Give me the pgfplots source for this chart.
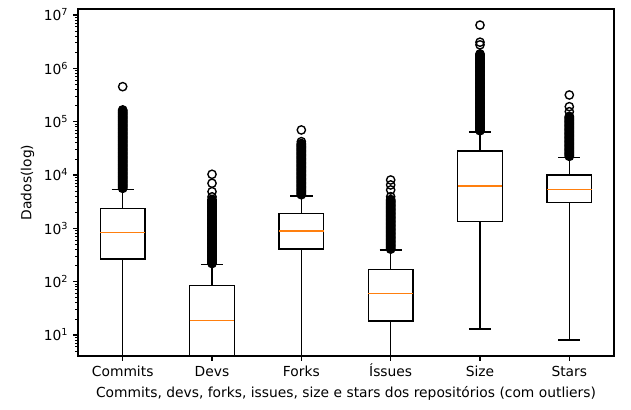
\documentclass[border=0pt]{standalone}
\usepackage{fontspec}
\setmainfont{DejaVu Sans}
\usepackage{pgfplots}
\pgfplotsset{compat=1.18}
\usepgfplotslibrary{statistics}
\definecolor{mplorange}{HTML}{FF7F0E}
% all values are given as log10 of the data (axis is drawn in decades)
\begin{document}
\begin{tikzpicture}
\begin{axis}[
  scale only axis, width=387.4pt, height=250.8pt,
  ymin=0.606, ymax=7.1125,
  xmin=0.5, xmax=6.5,
  xtick={1,2,3,4,5,6},
  xticklabels={Commits,Devs,Forks,Íssues,Size,Stars},
  xticklabel style={text height=7.6pt, text depth=0.5pt},
  ytick={1,2,3,4,5,6,7},
  yticklabels={10\textsuperscript{1},10\textsuperscript{2},10\textsuperscript{3},10\textsuperscript{4},10\textsuperscript{5},10\textsuperscript{6},10\textsuperscript{7}},
  minor ytick={0.699,0.778,0.845,0.903,0.954,
    1.301,1.477,1.602,1.699,1.778,1.845,1.903,1.954,
    2.301,2.477,2.602,2.699,2.778,2.845,2.903,2.954,
    3.301,3.477,3.602,3.699,3.778,3.845,3.903,3.954,
    4.301,4.477,4.602,4.699,4.778,4.845,4.903,4.954,
    5.301,5.477,5.602,5.699,5.778,5.845,5.903,5.954,
    6.301,6.477,6.602,6.699,6.778,6.845,6.903,6.954},
  tick align=outside, tick pos=left,
  major tick length=3.5pt, minor tick length=2pt,
  major tick style={black, line width=0.8pt},
  minor tick style={black, line width=0.6pt},
  axis line style={black, line width=0.8pt},
  tick label style={font=\fontsize{10}{12}\selectfont},
  label style={font=\fontsize{10}{12}\selectfont},
  xlabel={Commits, devs, forks, issues, size e stars dos repositórios (com outliers)},
  ylabel={Dados(log)},
  boxplot/draw direction=y,
  boxplot/box extend=0.5,
  boxplot/whisker extend=0.25,
  boxplot/every box/.style={draw=black, line width=1pt},
  boxplot/every whisker/.style={draw=black, line width=1pt},
  boxplot/every median/.style={draw=mplorange, line width=1.1pt},
  fliers/.style={black, line width=1pt, mark=o, mark size=3pt, mark options={solid, draw=black, line width=1pt}},
]
% Commits
\addplot[fliers,
  boxplot prepared={draw position=1, median=2.918, upper quartile=3.376, lower quartile=2.425, upper whisker=3.732, lower whisker=0}]
  table[row sep=\\, y index=0] {data\\
  3.750\\ 3.765\\ 3.780\\ 3.795\\ 3.810\\ 3.825\\ 3.840\\ 3.855\\ 3.870\\ 3.885\\ 3.900\\ 3.915\\ 3.930\\ 3.945\\ 3.960\\ 3.975\\ 3.990\\ 4.005\\ 4.020\\ 4.035\\ 4.050\\ 4.065\\ 4.080\\ 4.095\\ 4.110\\ 4.125\\ 4.140\\ 4.155\\ 4.170\\ 4.185\\ 4.200\\ 4.215\\ 4.230\\ 4.245\\ 4.260\\ 4.275\\ 4.290\\ 4.305\\ 4.320\\ 4.335\\ 4.350\\ 4.365\\ 4.380\\ 4.395\\ 4.410\\ 4.425\\ 4.440\\ 4.455\\ 4.470\\ 4.485\\ 4.500\\ 4.515\\ 4.530\\ 4.545\\ 4.560\\ 4.575\\ 4.590\\ 4.605\\ 4.620\\ 4.635\\ 4.650\\ 4.665\\ 4.680\\ 4.695\\ 4.710\\ 4.725\\ 4.740\\ 4.755\\ 4.770\\ 4.785\\ 4.800\\ 4.815\\ 4.830\\ 4.845\\ 4.860\\ 4.875\\ 4.890\\ 4.905\\ 4.920\\ 4.935\\ 4.950\\ 4.965\\ 4.980\\ 4.995\\ 5.010\\ 5.025\\ 5.040\\ 5.055\\ 5.070\\ 5.085\\ 5.100\\ 5.115\\ 5.130\\ 5.145\\ 5.160\\ 5.175\\ 5.190\\ 5.205\\ 5.220\\
  5.656\\
  };
% Devs
\addplot[fliers,
  boxplot prepared={draw position=2, median=1.268, upper quartile=1.924, lower quartile=0, upper whisker=2.318, lower whisker=0}]
  table[row sep=\\, y index=0] {data\\
  2.340\\ 2.355\\ 2.370\\ 2.385\\ 2.400\\ 2.415\\ 2.430\\ 2.445\\ 2.460\\ 2.475\\ 2.490\\ 2.505\\ 2.520\\ 2.535\\ 2.550\\ 2.565\\ 2.580\\ 2.595\\ 2.610\\ 2.625\\ 2.640\\ 2.655\\ 2.670\\ 2.685\\ 2.700\\ 2.715\\ 2.730\\ 2.745\\ 2.760\\ 2.775\\ 2.790\\ 2.805\\ 2.820\\ 2.835\\ 2.850\\ 2.865\\ 2.880\\ 2.895\\ 2.910\\ 2.925\\ 2.940\\ 2.955\\ 2.970\\ 2.985\\ 3.000\\ 3.015\\ 3.030\\ 3.045\\ 3.060\\ 3.075\\ 3.090\\ 3.105\\ 3.120\\ 3.135\\ 3.150\\ 3.165\\ 3.180\\ 3.195\\ 3.210\\ 3.225\\ 3.240\\ 3.255\\ 3.270\\ 3.285\\ 3.300\\ 3.315\\ 3.330\\ 3.345\\ 3.360\\ 3.375\\ 3.390\\ 3.405\\ 3.420\\ 3.435\\ 3.450\\ 3.465\\ 3.480\\ 3.495\\ 3.510\\ 3.525\\ 3.540\\
  3.590\\ 3.687\\ 3.845\\ 4.013\\
  };
% Forks
\addplot[fliers,
  boxplot prepared={draw position=3, median=2.950, upper quartile=3.282, lower quartile=2.613, upper whisker=3.606, lower whisker=0}]
  table[row sep=\\, y index=0] {data\\
  3.630\\ 3.645\\ 3.660\\ 3.675\\ 3.690\\ 3.705\\ 3.720\\ 3.735\\ 3.750\\ 3.765\\ 3.780\\ 3.795\\ 3.810\\ 3.825\\ 3.840\\ 3.855\\ 3.870\\ 3.885\\ 3.900\\ 3.915\\ 3.930\\ 3.945\\ 3.960\\ 3.975\\ 3.990\\ 4.005\\ 4.020\\ 4.035\\ 4.050\\ 4.065\\ 4.080\\ 4.095\\ 4.110\\ 4.125\\ 4.140\\ 4.155\\ 4.170\\ 4.185\\ 4.200\\ 4.215\\ 4.230\\ 4.245\\ 4.260\\ 4.275\\ 4.290\\ 4.305\\ 4.320\\ 4.335\\ 4.350\\ 4.365\\ 4.380\\ 4.395\\ 4.410\\ 4.425\\ 4.440\\ 4.455\\ 4.470\\ 4.485\\ 4.500\\ 4.515\\ 4.530\\ 4.545\\ 4.560\\ 4.575\\ 4.590\\
  4.625\\ 4.844\\
  };
% Issues
\addplot[fliers,
  boxplot prepared={draw position=4, median=1.774, upper quartile=2.232, lower quartile=1.263, upper whisker=2.594, lower whisker=0}]
  table[row sep=\\, y index=0] {data\\
  2.610\\ 2.625\\ 2.640\\ 2.655\\ 2.670\\ 2.685\\ 2.700\\ 2.715\\ 2.730\\ 2.745\\ 2.760\\ 2.775\\ 2.790\\ 2.805\\ 2.820\\ 2.835\\ 2.850\\ 2.865\\ 2.880\\ 2.895\\ 2.910\\ 2.925\\ 2.940\\ 2.955\\ 2.970\\ 2.985\\ 3.000\\ 3.015\\ 3.030\\ 3.045\\ 3.060\\ 3.075\\ 3.090\\ 3.105\\ 3.120\\ 3.135\\ 3.150\\ 3.165\\ 3.180\\ 3.195\\ 3.210\\ 3.225\\ 3.240\\ 3.255\\ 3.270\\ 3.285\\ 3.300\\ 3.315\\ 3.330\\ 3.345\\ 3.360\\ 3.375\\ 3.390\\ 3.405\\ 3.420\\ 3.435\\ 3.450\\ 3.465\\ 3.480\\ 3.495\\ 3.510\\ 3.525\\ 3.540\\
  3.593\\ 3.719\\ 3.813\\ 3.906\\
  };
% Size
\addplot[fliers,
  boxplot prepared={draw position=5, median=3.794, upper quartile=4.450, lower quartile=3.132, upper whisker=4.806, lower whisker=1.1125}]
  table[row sep=\\, y index=0] {data\\
  4.830\\ 4.845\\ 4.860\\ 4.875\\ 4.890\\ 4.905\\ 4.920\\ 4.935\\ 4.950\\ 4.965\\ 4.980\\ 4.995\\ 5.010\\ 5.025\\ 5.040\\ 5.055\\ 5.070\\ 5.085\\ 5.100\\ 5.115\\ 5.130\\ 5.145\\ 5.160\\ 5.175\\ 5.190\\ 5.205\\ 5.220\\ 5.235\\ 5.250\\ 5.265\\ 5.280\\ 5.295\\ 5.310\\ 5.325\\ 5.340\\ 5.355\\ 5.370\\ 5.385\\ 5.400\\ 5.415\\ 5.430\\ 5.445\\ 5.460\\ 5.475\\ 5.490\\ 5.505\\ 5.520\\ 5.535\\ 5.550\\ 5.565\\ 5.580\\ 5.595\\ 5.610\\ 5.625\\ 5.640\\ 5.655\\ 5.670\\ 5.685\\ 5.700\\ 5.715\\ 5.730\\ 5.745\\ 5.760\\ 5.775\\ 5.790\\ 5.805\\ 5.820\\ 5.835\\ 5.850\\ 5.865\\ 5.880\\ 5.895\\ 5.910\\ 5.925\\ 5.940\\ 5.955\\ 5.970\\ 5.985\\ 6.000\\ 6.015\\ 6.030\\ 6.045\\ 6.060\\ 6.075\\ 6.090\\ 6.105\\ 6.120\\ 6.135\\ 6.150\\ 6.165\\ 6.180\\ 6.195\\ 6.210\\ 6.225\\ 6.240\\ 6.255\\ 6.270\\
  6.440\\ 6.490\\ 6.810\\
  };
% Stars
\addplot[fliers,
  boxplot prepared={draw position=6, median=3.725, upper quartile=4.000, lower quartile=3.488, upper whisker=4.332, lower whisker=0.906}]
  table[row sep=\\, y index=0] {data\\
  4.350\\ 4.365\\ 4.380\\ 4.395\\ 4.410\\ 4.425\\ 4.440\\ 4.455\\ 4.470\\ 4.485\\ 4.500\\ 4.515\\ 4.530\\ 4.545\\ 4.560\\ 4.575\\ 4.590\\ 4.605\\ 4.620\\ 4.635\\ 4.650\\ 4.665\\ 4.680\\ 4.695\\ 4.710\\ 4.725\\ 4.740\\ 4.755\\ 4.770\\ 4.785\\ 4.800\\ 4.815\\ 4.830\\ 4.845\\ 4.860\\ 4.875\\ 4.890\\ 4.905\\ 4.920\\ 4.935\\ 4.950\\ 4.965\\ 4.980\\ 4.995\\ 5.010\\ 5.025\\ 5.040\\ 5.055\\ 5.070\\ 5.085\\ 5.100\\
  5.187\\ 5.281\\ 5.500\\
  };
\end{axis}
\pgfresetboundingbox
\path ([shift={(-56.4pt,-39pt)}]current axis.south west) rectangle ([shift={(12.3pt,6.5pt)}]current axis.north east);
\end{tikzpicture}
\end{document}
